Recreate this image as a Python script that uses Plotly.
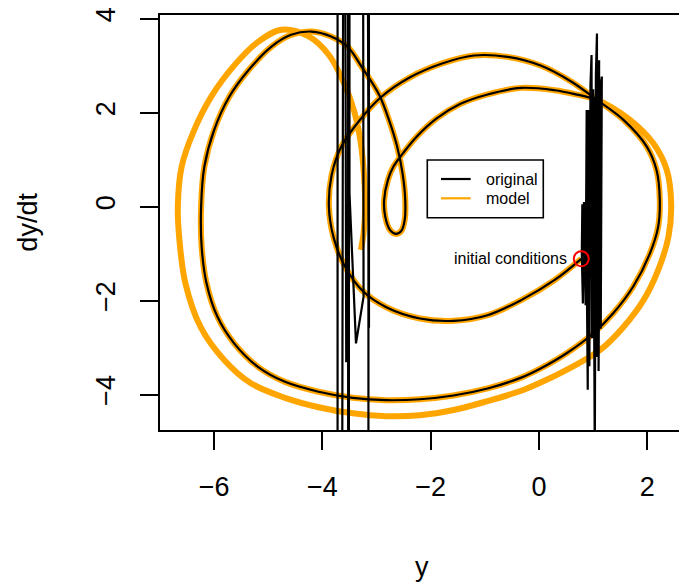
import plotly.graph_objects as go

# phase-space trajectory: position y and its derivative dy/dt
# part shared by the original series and the model (starts at the initial conditions)
shared_y = [0.78, 0.29, -0.33, -0.95, -1.58, -2.20, -2.82, -3.26, -3.58, -3.79,
            -3.88, -3.83, -3.65, -3.32, -2.92, -2.39, -1.79, -1.20, -0.58, 0.04,
            0.60, 1.05, 1.56, 1.99, 2.17, 2.23, 2.20, 2.05, 1.74, 1.37,
            1.00, 0.51, 0.02, -0.33, -0.95, -1.58, -2.20, -2.82, -3.44, -4.07,
            -4.69, -5.19, -5.63, -5.94, -6.14, -6.23, -6.24, -6.18, -6.00, -5.72,
            -5.37, -4.94, -4.58, -4.20, -3.85, -3.54, -3.26, -2.95, -2.76, -2.62,
            -2.52, -2.47, -2.48, -2.54, -2.64, -2.75, -2.84, -2.86, -2.79, -2.69,
            -2.51, -2.26, -1.89, -1.45, -0.95, -0.33, 0.29, 0.73, 1.05]
shared_dydt = [-1.11, -1.56, -1.99, -2.31, -2.43, -2.38, -2.14, -1.79, -1.28, -0.67,
               0.00, 0.67, 1.28, 1.83, 2.33, 2.75, 3.05, 3.22, 3.19, 3.00,
               2.66, 2.29, 1.85, 1.28, 0.78, 0.14, -0.43, -0.99, -1.70, -2.27,
               -2.70, -3.12, -3.45, -3.64, -3.87, -4.02, -4.10, -4.12, -4.07, -3.94,
               -3.73, -3.41, -2.91, -2.34, -1.63, -0.85, 0.00, 0.85, 1.63, 2.34,
               2.90, 3.41, 3.66, 3.73, 3.63, 3.41, 2.95, 2.38, 1.81, 1.28,
               0.71, 0.14, -0.28, -0.51, -0.58, -0.50, -0.21, 0.14, 0.57, 0.85,
               1.14, 1.49, 1.88, 2.19, 2.39, 2.53, 2.48, 2.38, 2.29]

# model keeps going on an outer loop
tail_y = [1.68, 2.11, 2.36, 2.44, 2.39, 2.20, 1.93, 1.56, 1.13, 0.63,
          0.02, -0.33, -0.95, -1.58, -2.20, -2.82, -3.44, -4.07, -4.69, -5.32,
          -5.81, -6.25, -6.53, -6.64, -6.67, -6.60, -6.38, -6.05, -5.62, -5.20,
          -4.75, -4.26, -3.88, -3.60, -3.41, -3.29, -3.23, -3.21, -3.24, -3.29]
tail_dydt = [1.85, 1.35, 0.78, 0.07, -0.64, -1.35, -1.99, -2.56, -3.05, -3.40,
             -3.75, -3.92, -4.14, -4.33, -4.44, -4.46, -4.40, -4.27, -4.07, -3.76,
             -3.27, -2.56, -1.63, -0.71, 0.00, 0.85, 1.60, 2.35, 3.02, 3.50,
             3.77, 3.63, 3.23, 2.63, 2.02, 1.35, 0.64, 0.00, -0.57, -0.92]

# noisy bursts in the original derivative
burst_r_y = [0.98, 0.96, 0.94, 0.92, 0.90, 0.88, 0.86, 0.83, 0.81, 0.79, 0.80,
             0.85, 0.87, 0.90, 0.91, 0.93, 0.95, 0.97, 0.98, 1.00, 1.02, 1.03,
             1.05, 1.07, 1.07, 1.09, 1.11, 1.10, 1.13, 1.16, 1.14, 1.12,
             1.08, 1.04, 1.01, 0.99]
burst_r_dydt = [0.30, 2.10, -1.50, 2.00, -2.00, 2.06, -2.10, 0.10, -2.06, -1.00, 0.05,
                -1.20, 0.14, -3.90, 2.06, -3.40, 2.60, 3.23, -2.80, 2.50, -3.00, -5.50,
                2.80, 3.69, -3.20, 2.90, 3.12, -3.50, 2.50, 2.77, -2.60, 2.20,
                -2.40, 2.30, -2.20, 2.00]
burst_l_y = [-3.56, -3.57, -3.72, -3.72, -3.53, -3.52, -3.50, -3.50, -3.38, -3.24,
             -3.31, -3.14, -3.15, -3.15]
burst_l_dydt = [-3.31, 1.89, 60, -60, 60, -60, 60, 0.29, -2.91, -1.92,
                60, -2.58, 60, -60]

ic_y, ic_dydt = 0.78, -1.11
x_ticks = [-6, -4, -2, 0, 2]
y_ticks = [-4, -2, 0, 2, 4]
legend_names = ["original", "model"]

FONT = "Liberation Sans, Arial, Helvetica, sans-serif"
ORANGE = "#FFA500"


def lab(v):
    return str(v).replace("-", "\u2212")


fig = go.Figure()
fig.add_trace(go.Scatter(
    x=shared_y + tail_y, y=shared_dydt + tail_dydt, mode="lines", name="model",
    line=dict(color=ORANGE, width=6, shape="spline", smoothing=1.0),
    showlegend=False, hoverinfo="skip",
))
fig.add_trace(go.Scatter(
    x=shared_y, y=shared_dydt, mode="lines", name="original",
    line=dict(color="black", width=2.2, shape="spline", smoothing=1.0),
    showlegend=False, hoverinfo="skip",
))
fig.add_trace(go.Scatter(
    x=[shared_y[-1]] + burst_r_y + [None] + burst_l_y,
    y=[shared_dydt[-1]] + burst_r_dydt + [None] + burst_l_dydt,
    mode="lines", name="original", line=dict(color="black", width=2.2),
    showlegend=False, hoverinfo="skip",
))
fig.add_trace(go.Scatter(
    x=[ic_y], y=[ic_dydt], mode="markers", showlegend=False,
    marker=dict(symbol="circle-open", size=15, color="red", line=dict(width=2, color="red")),
))
fig.add_annotation(x=ic_y, y=ic_dydt, text="initial conditions", showarrow=False,
                   xanchor="right", yanchor="middle", xshift=-12,
                   font=dict(size=16, color="black", family=FONT))

# legend box (paper coords of the plot area)
fig.add_shape(type="rect", xref="paper", yref="paper", x0=0.515, x1=0.7385, y0=0.5116, y1=0.6506,
              line=dict(color="black", width=1.6), fillcolor="white", layer="above")
for name, col, yy in zip(legend_names, ["black", ORANGE], [0.6048, 0.5583]):
    fig.add_shape(type="line", xref="paper", yref="paper", x0=0.5414, x1=0.5986, y0=yy, y1=yy,
                  line=dict(color=col, width=2.2), layer="above")
    fig.add_annotation(xref="paper", yref="paper", x=0.6249, y=yy, text=name, showarrow=False,
                       xanchor="left", yanchor="middle",
                       font=dict(size=16, family=FONT, color="black"))

fig.add_annotation(xref="paper", yref="paper", x=0.504, y=-0.33, text="y", showarrow=False,
                   xanchor="center", yanchor="middle", font=dict(size=27, family=FONT, color="black"))
fig.add_annotation(xref="paper", yref="paper", x=-0.256, y=0.50, text="dy/dt", showarrow=False,
                   textangle=-90, xanchor="center", yanchor="middle",
                   font=dict(size=27, family=FONT, color="black"))

fig.update_xaxes(
    range=[-6.999, 2.585], tickvals=x_ticks, ticktext=[lab(v) for v in x_ticks],
    showgrid=False, zeroline=False, showline=True, mirror=True, linecolor="black", linewidth=1.6,
    ticks="outside", ticklen=18, tickwidth=1.6, tickcolor="black", ticklabelstandoff=14,
    tickfont=dict(size=27, family=FONT, color="black"), automargin=False,
)
fig.update_yaxes(
    range=[-4.755, 4.082], tickvals=y_ticks, ticktext=[lab(v) for v in y_ticks],
    showgrid=False, zeroline=False, showline=True, linecolor="black", linewidth=1.6,
    ticks="outside", ticklen=18, tickwidth=1.6, tickcolor="black", tickangle=-90,
    ticklabelstandoff=14, tickfont=dict(size=27, family=FONT, color="black"), automargin=False,
)
fig.update_layout(
    width=679, height=583,
    margin=dict(l=160, r=0, t=15, b=153),
    plot_bgcolor="white", paper_bgcolor="white",
    showlegend=False,
)
# drop the browser's default page margin so the figure sits at the window corner
fig.write_html("out.html", config={"displayModeBar": False},
               post_script="document.body.style.margin='0';")
